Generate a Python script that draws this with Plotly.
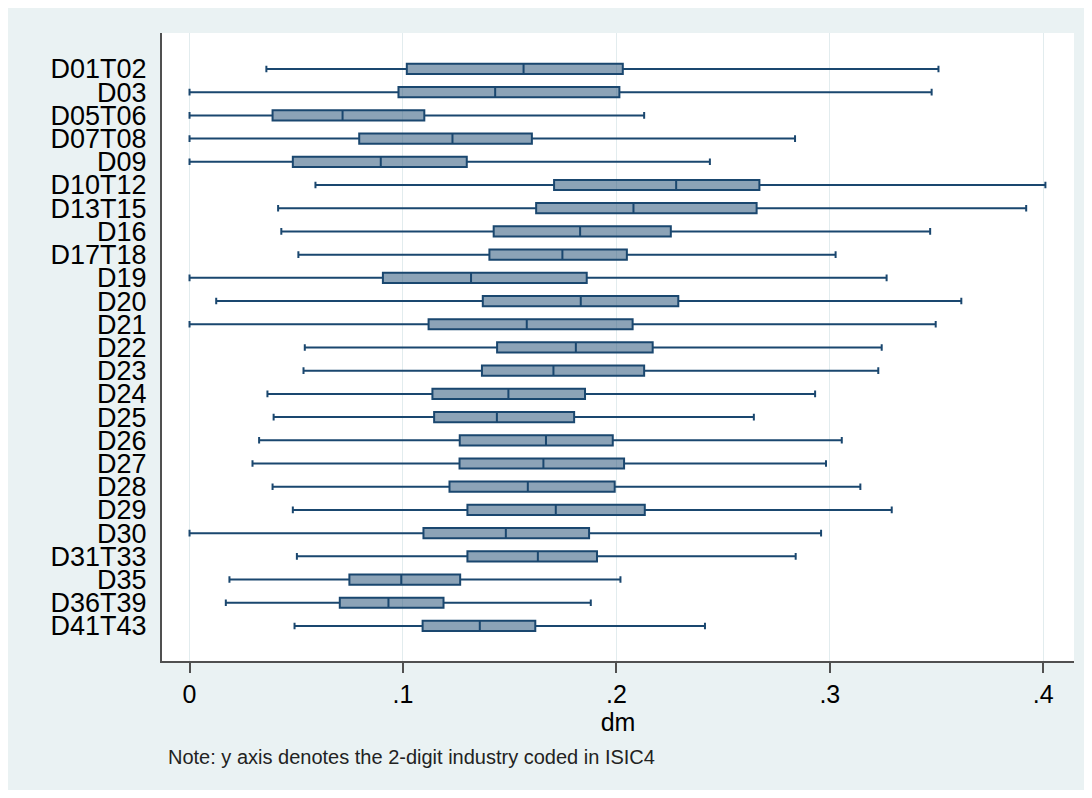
import plotly.graph_objects as go

industries = ["D01T02", "D03", "D05T06", "D07T08", "D09", "D10T12", "D13T15", "D16",
              "D17T18", "D19", "D20", "D21", "D22", "D23", "D24", "D25", "D26", "D27",
              "D28", "D29", "D30", "D31T33", "D35", "D36T39", "D41T43"]
lower_whisker = [0.036, 0.0, 0.0, 0.0, 0.0, 0.059, 0.0415, 0.043, 0.051, 0.0, 0.0125, 0.0,
                 0.054, 0.0534, 0.0365, 0.0394, 0.0326, 0.0295, 0.0389, 0.0484, 0.0, 0.0503,
                 0.0187, 0.017, 0.0492]
q1 = [0.1018, 0.0979, 0.0389, 0.0795, 0.0484, 0.1708, 0.1624, 0.1425, 0.1405, 0.0906, 0.1374,
      0.112, 0.1441, 0.137, 0.1138, 0.1146, 0.1266, 0.1265, 0.1218, 0.1302, 0.1096, 0.1302,
      0.0749, 0.0704, 0.1092]
median = [0.1565, 0.1432, 0.0717, 0.1232, 0.0896, 0.228, 0.208, 0.183, 0.1747, 0.1319, 0.1833,
          0.158, 0.181, 0.1705, 0.1494, 0.144, 0.167, 0.1658, 0.1585, 0.1716, 0.1482, 0.1632,
          0.0992, 0.0932, 0.136]
q3 = [0.203, 0.2014, 0.110, 0.1604, 0.1299, 0.267, 0.2657, 0.2255, 0.2049, 0.1861, 0.229,
      0.2076, 0.217, 0.213, 0.1853, 0.1802, 0.1983, 0.2036, 0.1992, 0.2133, 0.1872, 0.1909,
      0.1268, 0.119, 0.162]
upper_whisker = [0.3509, 0.3477, 0.213, 0.2837, 0.2438, 0.401, 0.392, 0.347, 0.3027, 0.3266,
                 0.3616, 0.3496, 0.3243, 0.3227, 0.2931, 0.2644, 0.3056, 0.2982, 0.3143, 0.329,
                 0.2959, 0.284, 0.2019, 0.188, 0.2415]
x_ticks = [0, 0.1, 0.2, 0.3, 0.4]
x_tick_labels = ["0", ".1", ".2", ".3", ".4"]

navy = "#1a476f"
bg = "#eaf2f3"
font_family = "Arial, Liberation Sans, sans-serif"

fig = go.Figure()
fig.add_trace(go.Box(
    y=industries,
    q1=q1, median=median, q3=q3,
    lowerfence=lower_whisker, upperfence=upper_whisker,
    orientation="h",
    boxpoints=False,
    width=0.44,
    whiskerwidth=0.65,
    line=dict(color=navy, width=2),
    fillcolor="rgba(26,71,111,0.5)",
    showlegend=False,
))

fig.update_layout(
    width=1076, height=782,
    margin=dict(l=154, r=10, t=25, b=129),
    paper_bgcolor=bg,
    plot_bgcolor="white",
    font=dict(family=font_family, color="black"),
    xaxis=dict(
        range=[-0.0129, 0.4144],
        tickvals=x_ticks, ticktext=x_tick_labels,
        ticks="outside", ticklen=10, tickwidth=2, tickcolor="#505050",
        tickfont=dict(size=25, family=font_family),
        showline=True, linecolor="#505050", linewidth=2,
        showgrid=True, gridcolor="#e2ecee", gridwidth=1,
        zeroline=False,
        title=dict(text="dm", font=dict(size=25, family=font_family), standoff=0),
    ),
    yaxis=dict(
        type="category",
        categoryorder="array", categoryarray=industries,
        tickmode="array", tickvals=industries, ticktext=industries,
        range=[25.51, -1.55],
        ticks="outside", ticklen=8, tickcolor="rgba(0,0,0,0)",
        tickfont=dict(size=27, family=font_family),
        showline=True, linecolor="#505050", linewidth=2,
        showgrid=False, zeroline=False,
    ),
    annotations=[dict(
        text="Note: y axis denotes the 2-digit industry coded in ISIC4",
        xref="paper", yref="paper", x=0.0044, y=-0.153,
        xanchor="left", yanchor="middle", showarrow=False,
        font=dict(size=20, family=font_family, color="#222222"),
    )],
)

fig.write_html("out.html")
